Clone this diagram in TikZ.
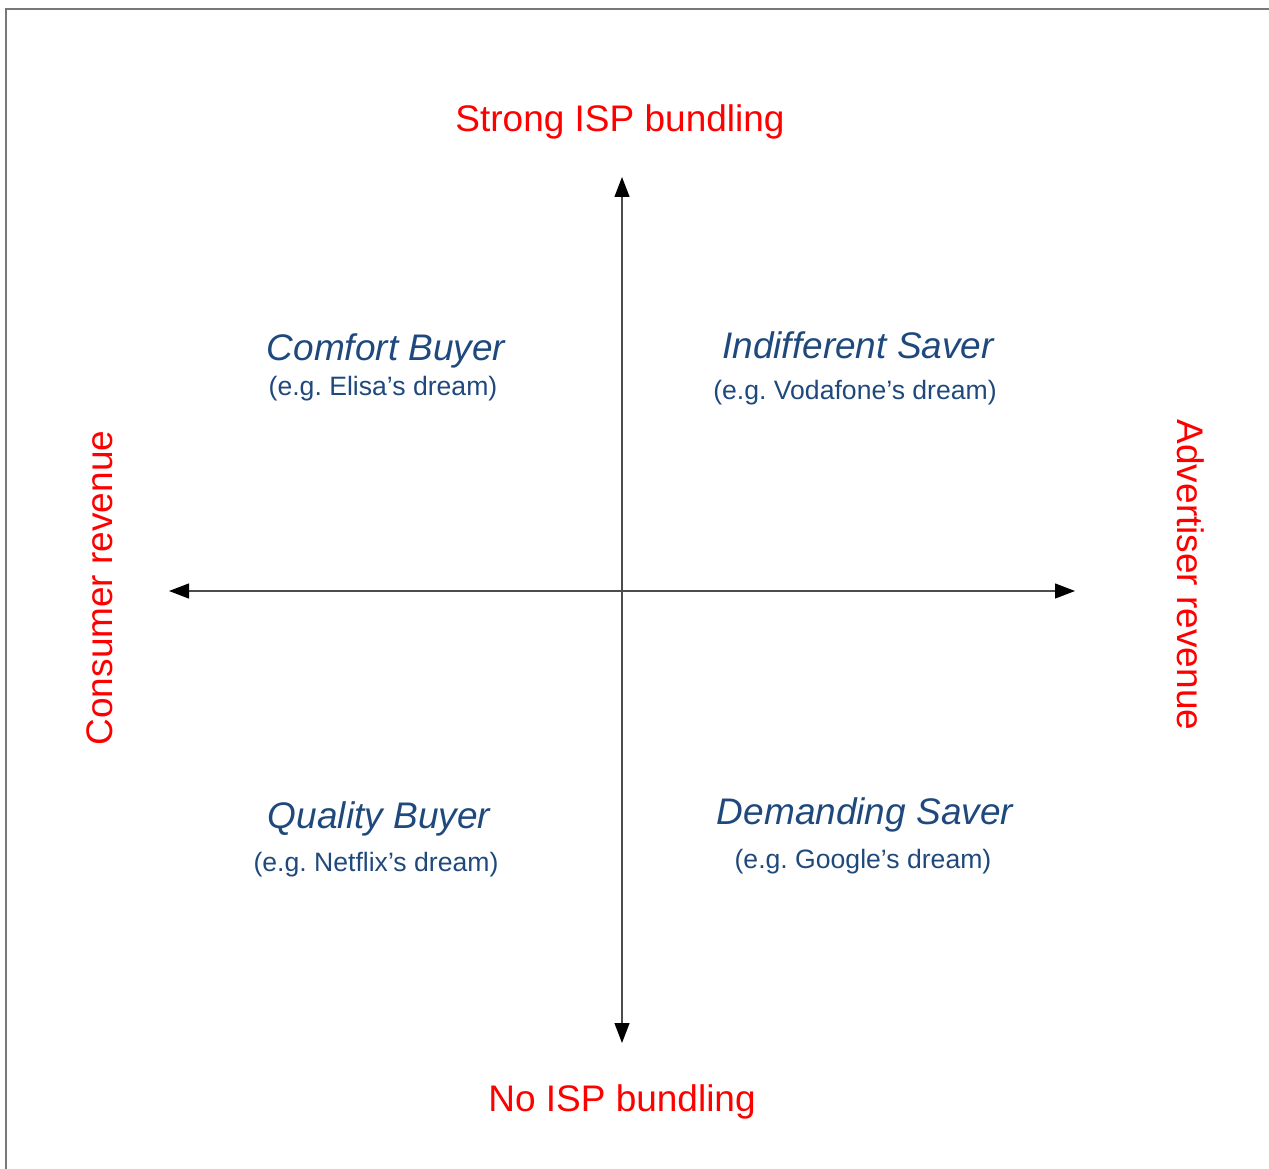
\documentclass[tikz,border=0pt]{standalone}
\usepackage{fontspec}
\setmainfont{Liberation Sans}
\usetikzlibrary{arrows.meta}
\frenchspacing

\definecolor{axisred}{RGB}{255,0,0}
\definecolor{quadblue}{RGB}{31,73,125}
\definecolor{framegray}{RGB}{120,120,120}

\begin{document}
\begin{tikzpicture}[x=1pt,y=-1pt,
	axislabel/.style={text=axisred,font=\fontsize{37}{40}\selectfont,inner sep=0pt},
	quadname/.style={text=quadblue,font=\fontsize{37}{40}\selectfont\itshape,inner sep=0pt},
	quadnote/.style={text=quadblue,font=\fontsize{26.6}{30}\selectfont,inner sep=0pt},
	axisline/.style={draw=black!70,line width=1.3pt,
		{Triangle[length=20pt,width=15pt,black]}-{Triangle[length=20pt,width=15pt,black]}}]

% bounding box %{{{2

	\useasboundingbox (0,0) rectangle (1269,1169);

% frame %{{{2

	\draw[framegray,line width=2pt] (1269,9) -- (6,9) -- (6,1169);

% coordinate %{{{2

	\coordinate (T) at (622,177);
	\coordinate (B) at (622,1043);
	\coordinate (L) at (169,591);
	\coordinate (R) at (1075,591);

% axes %{{{2

	\draw[axisline] (B) -- (T);
	\draw[axisline] (L) -- (R);

% axes labels %{{{2

	\node[axislabel] (strong) at (620,122) {Strong ISP bundling};
	\node[axislabel] (noisp) at (622,1102) {No ISP bundling};
	\node[axislabel,rotate=90] (consumer) at (100,588) {Consumer revenue};
	\node[axislabel,rotate=-90] (advertiser) at (1191,575) {Advertiser revenue};

% quadrant labels %{{{2

	\node[quadname] (comfort) at (386,351) {Comfort Buyer};
	\node[quadnote] (elisa) at (383,389) {(e.g. Elisa’s dream)};
	\node[quadname] (indifferent) at (858,345) {Indifferent Saver};
	\node[quadnote] (vodafone) at (855,393) {(e.g. Vodafone’s dream)};
	\node[quadname] (quality) at (379,819) {Quality Buyer};
	\node[quadnote] (netflix) at (376,865) {(e.g. Netflix’s dream)};
	\node[quadname] (demanding) at (865,815) {Demanding Saver};
	\node[quadnote] (google) at (863,862) {(e.g. Google’s dream)};

\end{tikzpicture}
\end{document}
